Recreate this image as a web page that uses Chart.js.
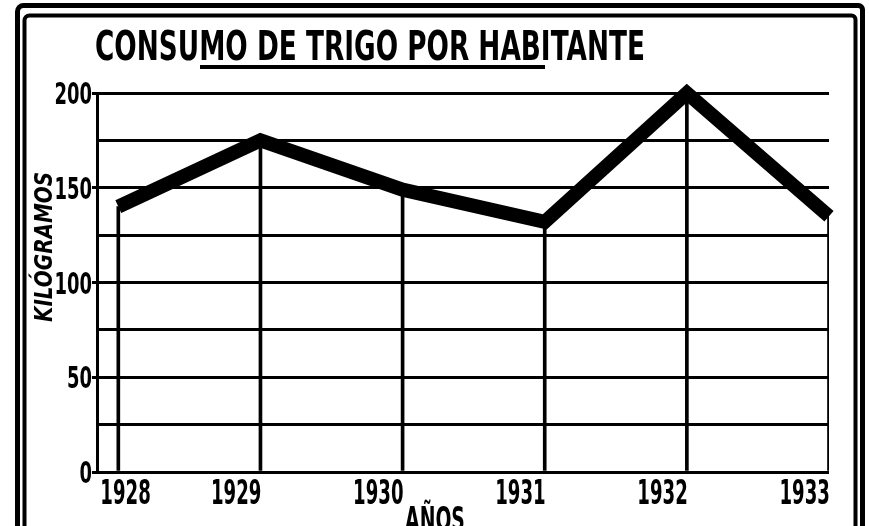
<!DOCTYPE html>
<html>
<head>
<meta charset="utf-8">
<script src="https://cdn.jsdelivr.net/npm/chart.js@4.4.1/dist/chart.umd.min.js"></script>
<style>
  html, body { margin: 0; padding: 0; background: #fff; }
  canvas { display: block; }
</style>
</head>
<body>
<canvas id="chart-trigo" width="869" height="526"></canvas>
<script>
const anos = [1928, 1929, 1930, 1931, 1932, 1933];
const consumoKg = [140, 175, 149, 132, 200, 135];
const etiquetasY = [0, 50, 100, 150, 200];
const titulo = 'CONSUMO DE TRIGO POR HABITANTE';
const tituloY = 'KILÓGRAMOS';
const tituloX = 'AÑOS';

const tinta = '#000';
const fuente = '"DejaVu Sans", sans-serif';
const canvasTrigo = document.getElementById('chart-trigo');
const ctxTrigo = canvasTrigo.getContext('2d');

// texto en negrita comprimido a lo ancho (la letra del original es muy estrecha)
function textoEstrecho(ctx, texto, x, y, size, escala, align, italic) {
    ctx.save();
    ctx.font = (italic ? 'italic ' : '') + 'bold ' + size + 'px ' + fuente;
    ctx.translate(x, y);
    ctx.scale(escala, 1);
    ctx.textAlign = align;
    ctx.textBaseline = 'alphabetic';
    ctx.fillStyle = tinta;
    ctx.fillText(texto, 0, 0);
    ctx.restore();
}

function anchoTexto(ctx, texto, size, italic) {
    ctx.save();
    ctx.font = (italic ? 'italic ' : '') + 'bold ' + size + 'px ' + fuente;
    const w = ctx.measureText(texto).width;
    ctx.restore();
    return w;
}

const marco = {
    id: 'marco',
    beforeDraw(chart) {
        const ctx = chart.ctx;
        ctx.save();
        ctx.fillStyle = '#fff';
        ctx.fillRect(0, 0, chart.width, chart.height);
        ctx.strokeStyle = tinta;
        ctx.lineJoin = 'round';
        // doble filete, sin borde inferior
        ctx.lineWidth = 5;
        ctx.beginPath();
        ctx.moveTo(17.5, chart.height);
        ctx.arcTo(17.5, 5.5, 862.5, 5.5, 6);
        ctx.arcTo(862.5, 5.5, 862.5, chart.height, 4);
        ctx.lineTo(862.5, chart.height);
        ctx.stroke();
        ctx.lineWidth = 4;
        ctx.beginPath();
        ctx.moveTo(24.5, chart.height);
        ctx.arcTo(24.5, 15.5, 855.5, 15.5, 5);
        ctx.arcTo(855.5, 15.5, 855.5, chart.height, 4);
        ctx.lineTo(855.5, chart.height);
        ctx.stroke();
        // subrayado del titulo
        ctx.lineWidth = 4;
        ctx.beginPath();
        ctx.moveTo(200, 67);
        ctx.lineTo(545, 67);
        ctx.stroke();
        ctx.restore();

        const wt = anchoTexto(ctx, titulo, 40, false);
        textoEstrecho(ctx, titulo, 95, 60, 40, 550 / wt, 'left', false);
    },
    afterDraw(chart) {
        const ctx = chart.ctx;
        const sx = chart.scales.x;
        const sy = chart.scales.y;
        etiquetasY.forEach(v => {
            const y = sy.getPixelForValue(v);
            textoEstrecho(ctx, String(v), 92, y + 11, 30, 0.6, 'right', false);
        });
        anos.forEach((a, i) => {
            const x = sx.getPixelForValue(a);
            if (i === 0) {
                textoEstrecho(ctx, String(a), x - 18, 504, 33, 0.55, 'left', false);
            } else {
                textoEstrecho(ctx, String(a), x + 1, 504, 33, 0.55, 'right', false);
            }
        });
        textoEstrecho(ctx, tituloX, 435, 531, 33, 0.57, 'center', false);

        const wy = anchoTexto(ctx, tituloY, 24, true);
        ctx.save();
        ctx.translate(52, 247);
        ctx.rotate(-Math.PI / 2);
        textoEstrecho(ctx, tituloY, 0, 0, 24, 150 / wy, 'center', true);
        ctx.restore();
    }
};

const puntos = anos.map((a, i) => ({ x: a, y: consumoKg[i] }));

new Chart(ctxTrigo, {
    type: 'line',
    data: {
        datasets: [{
            type: 'line',
            label: 'Consumo',
            data: puntos,
            borderColor: tinta,
            borderWidth: 14,
            pointRadius: 0,
            tension: 0,
            borderJoinStyle: 'miter',
            borderCapStyle: 'butt',
            clip: false,
            order: 0
        }, {
            type: 'bar',
            label: 'Guias',
            data: puntos,
            backgroundColor: tinta,
            barThickness: 3,
            order: 1
        }]
    },
    options: {
        responsive: false,
        animation: false,
        events: [],
        layout: { padding: { left: 0, top: 93, right: 40, bottom: 0 } },
        plugins: {
            legend: { display: false },
            tooltip: { enabled: false },
            title: { display: false }
        },
        scales: {
            x: {
                type: 'linear',
                min: 1927.85,
                max: 1933,
                offset: false,
                grid: { display: false },
                border: { display: false },
                ticks: { display: false },
                afterBuildTicks: s => { s.ticks = anos.map(v => ({ value: v })); },
                afterFit: s => { s.height = 54; }
            },
            y: {
                min: 0,
                max: 200,
                ticks: { display: false, stepSize: 25 },
                grid: {
                    color: tinta,
                    lineWidth: 3,
                    tickLength: 5,
                    tickColor: c => (c.tick && c.tick.value % 50 === 0) ? tinta : 'rgba(0,0,0,0)'
                },
                border: { display: true, color: tinta, width: 3 },
                afterFit: s => { s.width = 97; }
            }
        }
    },
    plugins: [marco]
});
</script>
</body>
</html>
